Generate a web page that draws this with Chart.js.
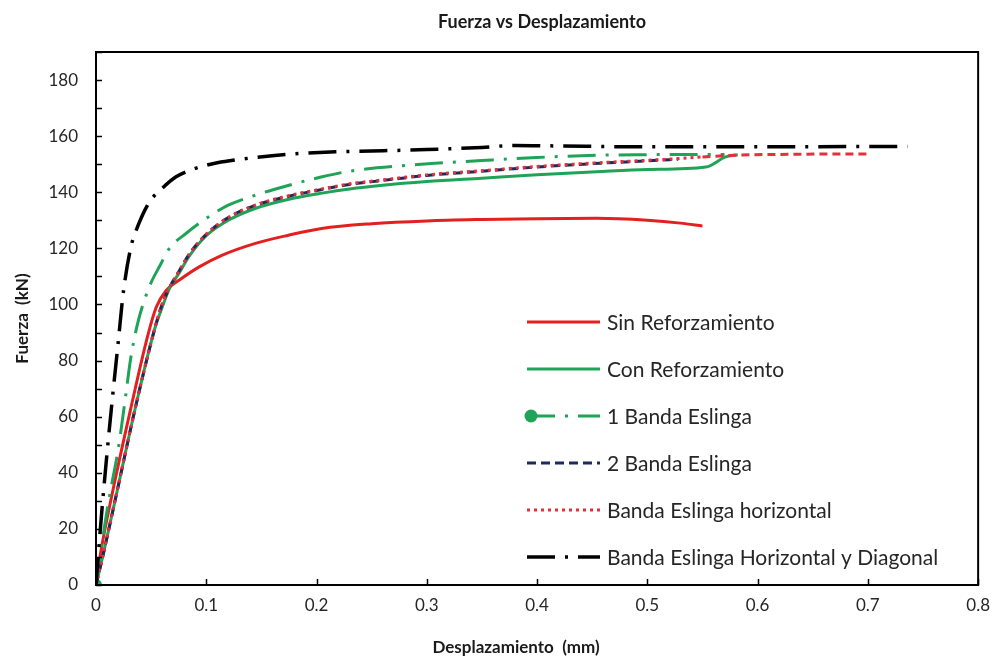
<!DOCTYPE html>
<html>
<head>
<meta charset="utf-8">
<script src="https://cdn.jsdelivr.net/npm/chart.js@4.4.1/dist/chart.umd.min.js"></script>
<style>
  html, body { margin: 0; padding: 0; background: #fff; }
  #wrap { width: 1000px; height: 660px; }
</style>
</head>
<body>
<div id="wrap"><canvas id="chart" width="1000" height="660"></canvas></div>
<script>
const FONT = 'Lato, "Open Sans", "DejaVu Sans", sans-serif';

const xTicks = [0, 0.1, 0.2, 0.3, 0.4, 0.5, 0.6, 0.7, 0.8];
const xTickLabels = ["0", "0.1", "0.2", "0.3", "0.4", "0.5", "0.6", "0.7", "0.8"];
const yTicks = [0, 10, 20, 30, 40, 50, 60, 70, 80, 90, 100, 110, 120, 130, 140, 150, 160, 170, 180, 190];
const yTickLabels = ["0", "", "20", "", "40", "", "60", "", "80", "", "100", "", "120", "", "140", "", "160", "", "180", ""];

// Sin Reforzamiento
const sinX = [0, 0.004, 0.016, 0.031, 0.047, 0.0546, 0.0636, 0.0756, 0.0936, 0.1146, 0.1446, 0.1746, 0.2046, 0.25, 0.3, 0.35, 0.4, 0.454, 0.5, 0.53, 0.55];
const sinY = [0, 11, 35, 62, 89, 99, 105, 108.7, 113.4, 117.6, 121.8, 124.7, 127.1, 128.8, 129.8, 130.3, 130.6, 130.7, 130, 129, 128];

// Con Reforzamiento
const conX = [0, 0.0066, 0.02, 0.035, 0.053, 0.06, 0.067, 0.075, 0.085, 0.1, 0.12, 0.145, 0.175, 0.205, 0.23, 0.26, 0.3, 0.35, 0.4, 0.454, 0.5, 0.553, 0.571, 0.582];
const conY = [0, 11, 35, 62, 91, 99, 106, 111, 117.5, 124.5, 130, 134.3, 137.5, 139.7, 141.2, 142.5, 143.8, 145, 146.2, 147.3, 148.1, 149, 152.6, 153.4];

// 1 Banda Eslinga
const unaX = [0, 0.0096, 0.0147, 0.02, 0.0276, 0.031, 0.037, 0.047, 0.059, 0.0666, 0.0816, 0.1, 0.12, 0.145, 0.175, 0.205, 0.23, 0.288, 0.35, 0.4, 0.454, 0.5, 0.57];
const unaY = [0, 25.6, 36.8, 48, 69.5, 79.6, 92, 105, 114.6, 120, 125.3, 130.7, 135.4, 139, 142.5, 145.5, 147.5, 149.8, 151.3, 152.4, 153.2, 153.4, 153.5];

// 2 Banda Eslinga
const dosX = [0, 0.0066, 0.02, 0.035, 0.053, 0.059, 0.0666, 0.074, 0.0846, 0.1, 0.12, 0.145, 0.175, 0.205, 0.23, 0.26, 0.3, 0.35, 0.4, 0.45, 0.5, 0.528];
const dosY = [0, 11, 35, 62, 91, 99, 106, 111, 118, 125, 131, 135.4, 138.6, 141, 142.8, 144.2, 146, 147.5, 149, 150.2, 151.2, 151.8];

// Banda Eslinga horizontal
const horX = [0, 0.0066, 0.02, 0.035, 0.053, 0.059, 0.0666, 0.074, 0.0846, 0.1, 0.12, 0.145, 0.175, 0.205, 0.23, 0.26, 0.3, 0.35, 0.4, 0.45, 0.5, 0.528, 0.55, 0.58, 0.62, 0.66, 0.703];
const horY = [0, 11, 35, 62, 91, 99, 106, 111, 118, 125, 131, 135.5, 138.8, 141.2, 143, 144.4, 146.2, 147.7, 149.2, 150.4, 151.4, 152, 152.6, 153.2, 153.5, 153.6, 153.6];

// Banda Eslinga Horizontal y Diagonal
const hydX = [0, 0.005, 0.01, 0.015, 0.02, 0.025, 0.032, 0.038, 0.0486, 0.059, 0.0726, 0.09, 0.11, 0.13, 0.175, 0.217, 0.3, 0.35, 0.38, 0.42, 0.5, 0.6, 0.7, 0.736];
const hydY = [0, 25, 47, 67, 86, 105, 121, 128, 136.6, 141, 145.5, 148.5, 150.5, 151.7, 153.6, 154.4, 155.2, 156, 156.7, 156.5, 156.2, 156.2, 156.3, 156.3];

const toPoints = (xs, ys) => xs.map((x, i) => ({ x: x, y: ys[i] }));

const datasets = [
  { label: "Sin Reforzamiento", data: toPoints(sinX, sinY), borderColor: "#e3201f", borderWidth: 3, borderDash: [] },
  { label: "Con Reforzamiento", data: toPoints(conX, conY), borderColor: "#1fa457", borderWidth: 3, borderDash: [] },
  { label: "1 Banda Eslinga", data: toPoints(unaX, unaY), borderColor: "#1fa457", borderWidth: 3, borderDash: [28, 10, 3, 10], marker: true },
  { label: "2 Banda Eslinga", data: toPoints(dosX, dosY), borderColor: "#1c2a5e", borderWidth: 3, borderDash: [9, 5] },
  { label: "Banda Eslinga horizontal", data: toPoints(horX, horY), borderColor: "#e4303a", borderWidth: 3, borderDash: [3, 4], tailDash: [8, 5] },
  { label: "Banda Eslinga Horizontal y Diagonal", data: toPoints(hydX, hydY), borderColor: "#000000", borderWidth: 3.5, borderDash: [28, 10, 3, 10] }
];

datasets.forEach((ds, i) => {
  ds.order = datasets.length - i; // later series on top, like the original
  ds.fill = false;
  ds.cubicInterpolationMode = "monotone";
  ds.pointRadius = ds.marker ? (c => c.dataIndex === 0 ? 6 : 0) : 0;
  ds.pointBackgroundColor = ds.borderColor;
  ds.pointBorderWidth = 0;
  if (ds.tailDash) {
    const dots = ds.borderDash, tail = ds.tailDash;
    ds.segment = { borderDash: c => (c.p0.parsed.x >= 0.55 ? tail : dots) };
  }
});

// frame, inner ticks, titles and legend inside the plot
const decor = {
  id: "decor",
  afterDatasetsDraw(chart) {
    const { ctx, chartArea: a, scales } = chart;
    const sx = scales.x, sy = scales.y;
    ctx.save();
    ctx.strokeStyle = "#000";
    ctx.lineWidth = 2;
    ctx.setLineDash([]);
    ctx.strokeRect(a.left, a.top, a.right - a.left, a.bottom - a.top);

    ctx.lineWidth = 1.5;
    ctx.beginPath();
    xTicks.forEach(v => {
      const px = Math.round(sx.getPixelForValue(v)) + 0.5;
      ctx.moveTo(px, a.bottom);
      ctx.lineTo(px, a.bottom - 6);
    });
    yTicks.forEach(v => {
      const py = Math.round(sy.getPixelForValue(v)) + 0.5;
      ctx.moveTo(a.left, py);
      ctx.lineTo(a.left + 6, py);
    });
    ctx.stroke();

    ctx.fillStyle = "#1a1a1a";
    ctx.textAlign = "center";
    ctx.textBaseline = "middle";
    ctx.font = "bold 18px " + FONT;
    ctx.fillText("Fuerza vs Desplazamiento", 542, 22);
    ctx.font = "bold 17px " + FONT;
    ctx.fillText("Desplazamiento  (mm)", 516, 648);

    // legend
    const lx0 = 527, lx1 = 600, ly0 = 322, gap = 47;
    chart.data.datasets.forEach((ds, i) => {
      const cy = ly0 + i * gap;
      ctx.strokeStyle = ds.borderColor;
      ctx.lineWidth = ds.borderWidth;
      ctx.setLineDash(ds.borderDash);
      ctx.beginPath();
      ctx.moveTo(lx0, cy);
      ctx.lineTo(lx1, cy);
      ctx.stroke();
      if (ds.marker) {
        ctx.fillStyle = ds.borderColor;
        ctx.beginPath();
        ctx.arc(lx0 + 4, cy, 6.5, 0, Math.PI * 2);
        ctx.fill();
      }
      ctx.setLineDash([]);
      ctx.fillStyle = "#262626";
      ctx.textAlign = "left";
      ctx.font = "21px " + FONT;
      ctx.fillText(ds.label, 607, cy + 1);
    });
    ctx.restore();
  }
};

new Chart(document.getElementById("chart"), {
  type: "line",
  data: { datasets: datasets },
  options: {
    responsive: false,
    animation: false,
    devicePixelRatio: 1,
    layout: { padding: { left: 0, right: 15, top: 52, bottom: 0 } },
    plugins: {
      legend: { display: false },
      tooltip: { enabled: false },
      title: { display: false }
    },
    scales: {
      x: {
        type: "linear",
        min: 0,
        max: 0.8,
        afterBuildTicks: s => { s.ticks = xTicks.map(v => ({ value: v })); },
        afterFit: s => { s.height = 75; },
        grid: { display: false, drawTicks: false },
        border: { display: false },
        ticks: {
          autoSkip: false,
          maxRotation: 0,
          padding: 10,
          color: "#262626",
          font: { family: FONT, size: 17 },
          callback: (v, i) => xTickLabels[i]
        }
      },
      y: {
        type: "linear",
        min: 0,
        max: 190,
        afterBuildTicks: s => { s.ticks = yTicks.map(v => ({ value: v })); },
        afterFit: s => { s.width = 96; },
        grid: { display: false, drawTicks: false },
        border: { display: false },
        ticks: {
          autoSkip: false,
          padding: 18,
          color: "#262626",
          font: { family: FONT, size: 17 },
          callback: (v, i) => yTickLabels[i]
        },
        title: {
          display: true,
          text: "Fuerza  (kN)",
          color: "#1a1a1a",
          font: { family: FONT, size: 17, weight: "bold" },
          padding: { top: 12, bottom: 0 }
        }
      }
    }
  },
  plugins: [decor]
});
</script>
</body>
</html>
